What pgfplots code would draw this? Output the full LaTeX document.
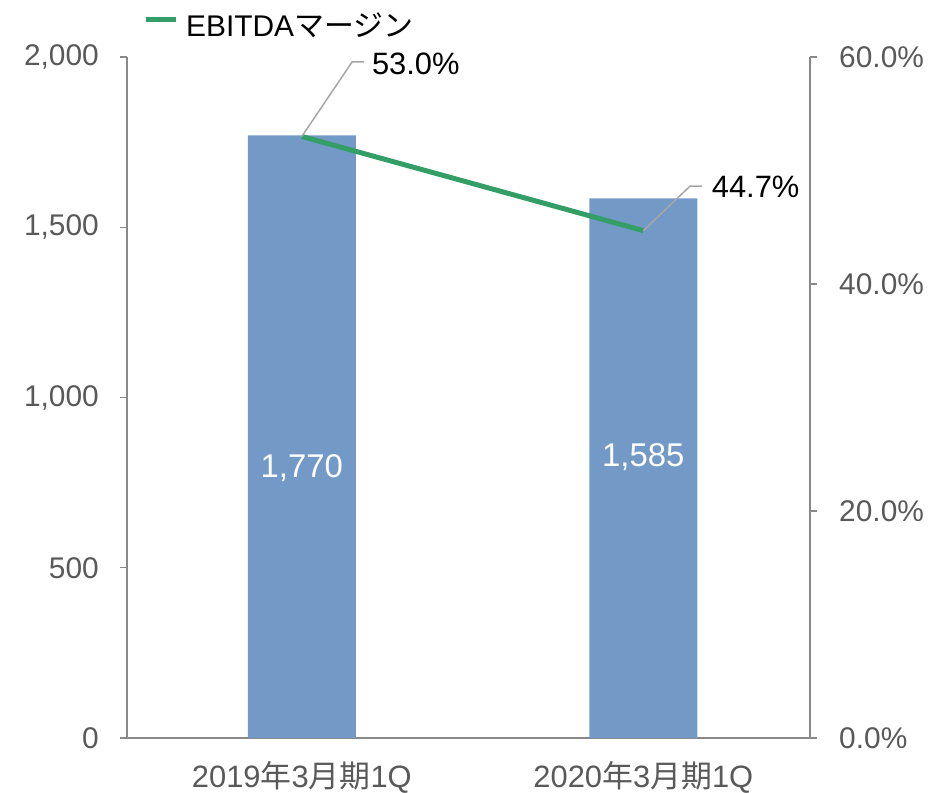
\documentclass[border=0pt]{standalone}
\usepackage{pgfplots}
\pgfplotsset{compat=1.18}
\usepackage{fontspec}
\setmainfont{Liberation Sans}
\newfontfamily\cjk{Noto Sans CJK JP}
\definecolor{barblue}{RGB}{115,153,198}
\definecolor{linegreen}{RGB}{51,158,102}
\definecolor{axgray}{RGB}{137,137,137}
\definecolor{tickgray}{RGB}{89,89,89}
\definecolor{leadgray}{RGB}{166,166,166}
\begin{document}
\begin{tikzpicture}
\useasboundingbox (-127bp,-55bp) rectangle (817bp,738bp);
\begin{axis}[
  name=ax,
  scale only axis, width=683bp, height=681bp,
  xmin=-0.512, xmax=1.488, ymin=0, ymax=2000,
  axis x line*=bottom, axis y line*=left,
  axis line style={axgray, line width=1.2bp},
  xtick={0,1}, xticklabels={2019{\cjk 年}3{\cjk 月期}1Q, 2020{\cjk 年}3{\cjk 月期}1Q},
  x tick style={draw=none},
  ytick={0,500,1000,1500,2000},
  y tick style={axgray, line width=1.2bp},
  tick align=outside, major tick length=7bp,
  /pgf/number format/assume math mode=true,
  /pgf/number format/1000 sep={,},
  tick label style={font=\fontsize{30}{33}\selectfont, text=tickgray},
  yticklabel style={inner sep=0pt, xshift=-21bp},
  xticklabel style={inner sep=0pt, yshift=-16bp, font=\fontsize{31}{33}\selectfont},
  clip=false,
]
\addplot[ybar, bar width=108bp, fill=barblue, draw=none] coordinates {(0,1770) (1,1585)};
\node[text=white, font=\fontsize{33}{36}\selectfont] at (axis cs:0,793) {1,770};
\node[text=white, font=\fontsize{33}{36}\selectfont] at (axis cs:1,825) {1,585};
\end{axis}
\begin{axis}[
  scale only axis, width=683bp, height=681bp,
  xmin=-0.512, xmax=1.488, ymin=0, ymax=60,
  axis x line=none, axis y line*=right,
  axis line style={axgray, line width=1.2bp},
  ytick={0,20,40,60},
  y tick style={axgray, line width=1.2bp},
  tick align=outside, major tick length=7bp,
  /pgf/number format/assume math mode=true,
  yticklabel={\pgfmathprintnumber[fixed,fixed zerofill,precision=1]{\tick}\%},
  tick label style={font=\fontsize{30}{33}\selectfont, text=tickgray},
  yticklabel style={inner sep=0pt, xshift=22bp},
  legend style={at={(0.0234,1.047)}, anchor=west, draw=none, fill=none, inner sep=0pt,
    font=\fontsize{30}{33}\selectfont, /tikz/every even column/.append style={column sep=0pt}},
  legend cell align=left,
  legend image code/.code={\draw[#1] (-5bp,5bp) -- (25bp,5bp);},
  clip=false,
]
\addplot[linegreen, line width=5bp] coordinates {(0,53.0) (1,44.7)};
\addlegendentry{\hspace{6bp}EBITDA{\cjk マージン}}
\draw[leadgray, line width=1.5bp] (axis cs:0,53.0) -- (axis cs:0.147,59.56) -- (axis cs:0.182,59.56);
\node[anchor=west, inner sep=0pt, font=\fontsize{31}{34}\selectfont] at (axis cs:0.205,59.4) {53.0\%};
\draw[leadgray, line width=1.5bp] (axis cs:1,44.7) -- (axis cs:1.137,48.63) -- (axis cs:1.172,48.63);
\node[anchor=west, inner sep=0pt, font=\fontsize{31}{34}\selectfont] at (axis cs:1.2,48.55) {44.7\%};
\end{axis}
\end{tikzpicture}
\end{document}
